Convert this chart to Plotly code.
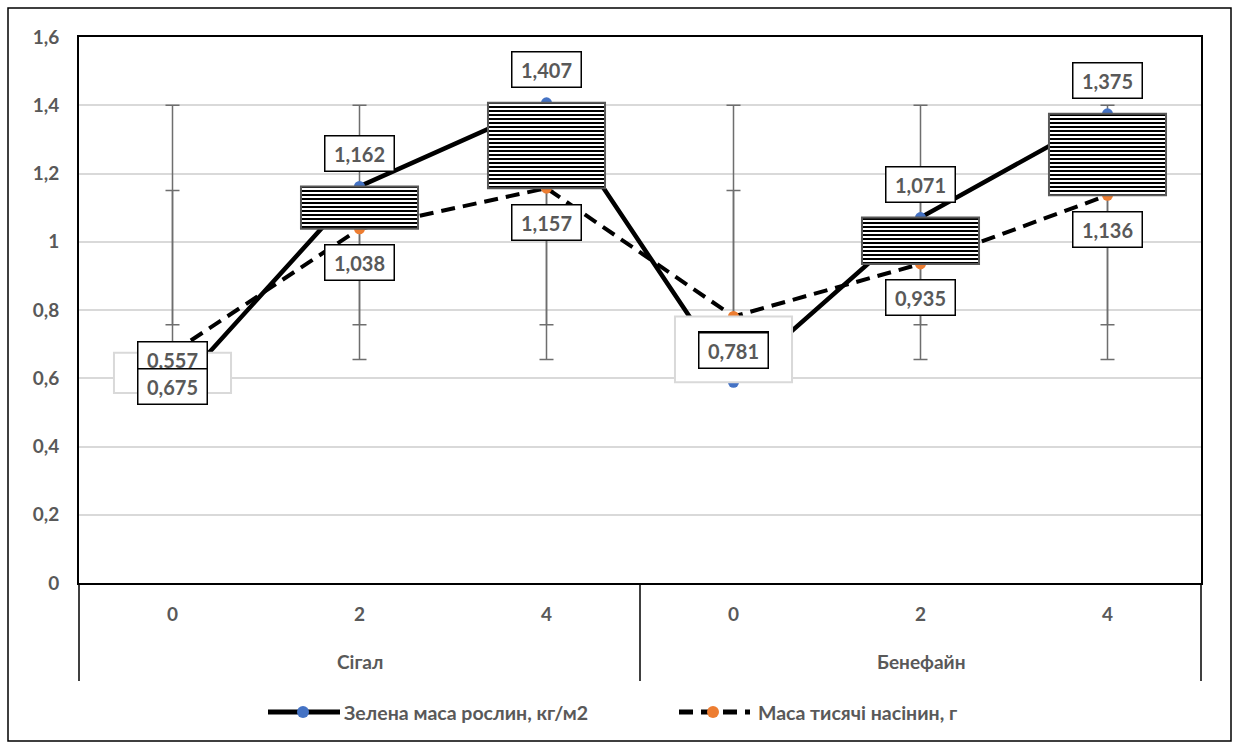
import plotly.graph_objects as go

# ---- data ----
groups = ["Сігал", "Бенефайн"]
doses = ["0", "2", "4", "0", "2", "4"]
green_mass = [0.557, 1.162, 1.407, 0.588, 1.071, 1.375]      # Зелена маса рослин, кг/м2
seed_mass = [0.675, 1.038, 1.157, 0.781, 0.935, 1.136]       # Маса тисячі насінин, г
err_high = [1.4, 1.4, 1.4, 1.4, 1.4, 1.4]
err_mid_hi = [1.15, 1.15, 1.15, 1.15, 1.15, 1.15]
err_mid_lo = [0.757, 0.757, 0.757, 0.757, 0.757, 0.757]
err_low = [0.655, 0.655, 0.655, 0.655, 0.655, 0.655]
name_green = "Зелена маса рослин, кг/м2"
name_seed = "Маса тисячі насінин, г"

W, H = 1235, 748
L, R, T, B = 79, 34, 37, 165
PW, PH = W - L - R, H - T - B

def px2x(px):
    return (px - L) / PW

def px2y(py):
    return (H - B - py) / PH

FONT = "Lato, Roboto, sans-serif"
GRAY = "#595959"

xs = list(range(len(doses)))
fig = go.Figure()

# error bars (drawn under everything else)
fig.add_trace(go.Scatter(
    x=xs, y=err_mid_hi, mode="markers", marker=dict(size=1, opacity=0),
    error_y=dict(type="data", symmetric=False,
                 array=[h - m for h, m in zip(err_high, err_mid_hi)],
                 arrayminus=[m - l for m, l in zip(err_mid_hi, err_mid_lo)],
                 color="#6E6E6E", thickness=1.5, width=7),
    hoverinfo="skip", showlegend=False))
fig.add_trace(go.Scatter(
    x=xs, y=err_mid_lo, mode="markers", marker=dict(size=1, opacity=0),
    error_y=dict(type="data", symmetric=False,
                 array=[h - m for h, m in zip(err_mid_hi, err_mid_lo)],
                 arrayminus=[m - l for m, l in zip(err_mid_lo, err_low)],
                 color="#6E6E6E", thickness=1.5, width=7),
    hoverinfo="skip", showlegend=False))

# series lines
fig.add_trace(go.Scatter(
    x=xs, y=green_mass, mode="lines+markers", name=name_green,
    line=dict(color="black", width=4.5),
    marker=dict(color="#4472C4", size=11), showlegend=False))
fig.add_trace(go.Scatter(
    x=xs, y=seed_mass, mode="lines+markers", name=name_seed,
    line=dict(color="black", width=4, dash="14px,8px"),
    marker=dict(color="#ED7D31", size=11), showlegend=False))

# up / down bars on an overlaid subplot so they sit above the lines
lows = [min(a, b) for a, b in zip(green_mass, seed_mass)]
diffs = [abs(a - b) for a, b in zip(green_mass, seed_mass)]
up = [a >= b for a, b in zip(green_mass, seed_mass)]
fig.add_trace(go.Bar(
    x=[x for x, u in zip(xs, up) if u],
    y=[d for d, u in zip(diffs, up) if u],
    base=[l for l, u in zip(lows, up) if u],
    width=0.626, xaxis="x2", yaxis="y2",
    marker=dict(color="white", line=dict(color=GRAY, width=2),
                pattern=dict(shape="-", fgcolor="black", bgcolor="white",
                             size=4, solidity=0.5, fillmode="replace")),
    hoverinfo="skip", showlegend=False))
fig.add_trace(go.Bar(
    x=[x for x, u in zip(xs, up) if not u],
    y=[d for d, u in zip(diffs, up) if not u],
    base=[l for l, u in zip(lows, up) if not u],
    width=0.626, xaxis="x2", yaxis="y2",
    marker=dict(color="white", line=dict(color="#D9D9D9", width=2)),
    hoverinfo="skip", showlegend=False))

def fmt(v):
    return f"{v:.3f}".replace(".", ",")

LBL = dict(family=FONT, size=20, color=GRAY)
annotations = []
for i, v in enumerate(green_mass):
    annotations.append(dict(x=i, y=v, xref="x", yref="y", text=f"<b>{fmt(v)}</b>",
                            showarrow=False, yshift=33, bgcolor="white",
                            bordercolor="black", borderwidth=1.5, borderpad=4,
                            width=60, height=26, font=LBL))
for i, v in enumerate(seed_mass):
    annotations.append(dict(x=i, y=v, xref="x", yref="y", text=f"<b>{fmt(v)}</b>",
                            showarrow=False, yshift=-34, bgcolor="white",
                            bordercolor="black", borderwidth=1.5, borderpad=4,
                            width=60, height=26, font=LBL))

# group labels
for gi, g in enumerate(groups):
    annotations.append(dict(x=gi * 3 + 1, y=px2y(661), xref="x", yref="paper",
                            yanchor="middle", text=f"<b>{g}</b>", showarrow=False,
                            font=dict(family=FONT, size=19, color=GRAY)))

# legend (manual)
annotations.append(dict(x=px2x(342), y=px2y(712), xref="paper", yref="paper",
                        xanchor="left", yanchor="middle",
                        text=f"<b>{name_green}</b>", showarrow=False,
                        font=dict(family=FONT, size=19.5, color=GRAY)))
annotations.append(dict(x=px2x(756), y=px2y(712), xref="paper", yref="paper",
                        xanchor="left", yanchor="middle",
                        text=f"<b>{name_seed}</b>", showarrow=False,
                        font=dict(family=FONT, size=19.5, color=GRAY)))

shapes = []
# dividers of the category axis
for pxv in (79, 640, 1201):
    shapes.append(dict(type="line", xref="paper", yref="paper",
                       x0=px2x(pxv), x1=px2x(pxv), y0=0, y1=px2y(681),
                       line=dict(color="black", width=1.5)))
# legend samples
shapes.append(dict(type="line", xref="paper", yref="paper",
                   x0=px2x(268), x1=px2x(340), y0=px2y(712), y1=px2y(712),
                   line=dict(color="black", width=5)))
shapes.append(dict(type="circle", xref="paper", yref="paper",
                   x0=px2x(297), x1=px2x(309), y0=px2y(706), y1=px2y(718),
                   fillcolor="#4472C4", line=dict(width=0)))
shapes.append(dict(type="line", xref="paper", yref="paper",
                   x0=px2x(679), x1=px2x(750), y0=px2y(712), y1=px2y(712),
                   line=dict(color="black", width=5, dash="14px,8px")))
shapes.append(dict(type="circle", xref="paper", yref="paper",
                   x0=px2x(707), x1=px2x(719), y0=px2y(706), y1=px2y(718),
                   fillcolor="#ED7D31", line=dict(width=0)))
# outer chart frame
shapes.append(dict(type="rect", xref="paper", yref="paper",
                   x0=px2x(8), x1=px2x(1231), y0=px2y(741), y1=px2y(8),
                   line=dict(color="black", width=1.5), fillcolor="rgba(0,0,0,0)"))

fig.update_layout(
    width=W, height=H,
    margin=dict(l=L, r=R, t=T, b=B),
    paper_bgcolor="white", plot_bgcolor="white",
    separators=", ",
    barmode="overlay",
    font=dict(family=FONT, color=GRAY),
    xaxis=dict(range=[-0.5, 5.5], tickmode="array", tickvals=xs,
               ticktext=[f"<b>{d}</b>" for d in doses],
               tickfont=dict(size=19, color=GRAY, family=FONT),
               showgrid=False, zeroline=False, showline=True, linecolor="black",
               linewidth=2, mirror=True, ticks="", ticklabelstandoff=13),
    yaxis=dict(range=[0, 1.6], dtick=0.2, tickformat="~r",
               tickprefix="<b>", ticksuffix="</b>",
               tickfont=dict(size=19, color=GRAY, family=FONT),
               gridcolor="#D9D9D9", gridwidth=1.5, zeroline=False,
               showline=True, linecolor="black", linewidth=2, mirror=True,
               ticks="", ticklabelstandoff=14),
    xaxis2=dict(range=[-0.5, 5.5], overlaying="x", visible=False),
    yaxis2=dict(range=[0, 1.6], overlaying="y", visible=False),
    annotations=annotations,
    shapes=shapes,
)

fig.write_html("out.html", config={"displayModeBar": False},
               post_script="document.body.style.margin='0';document.body.style.overflow='hidden';")
